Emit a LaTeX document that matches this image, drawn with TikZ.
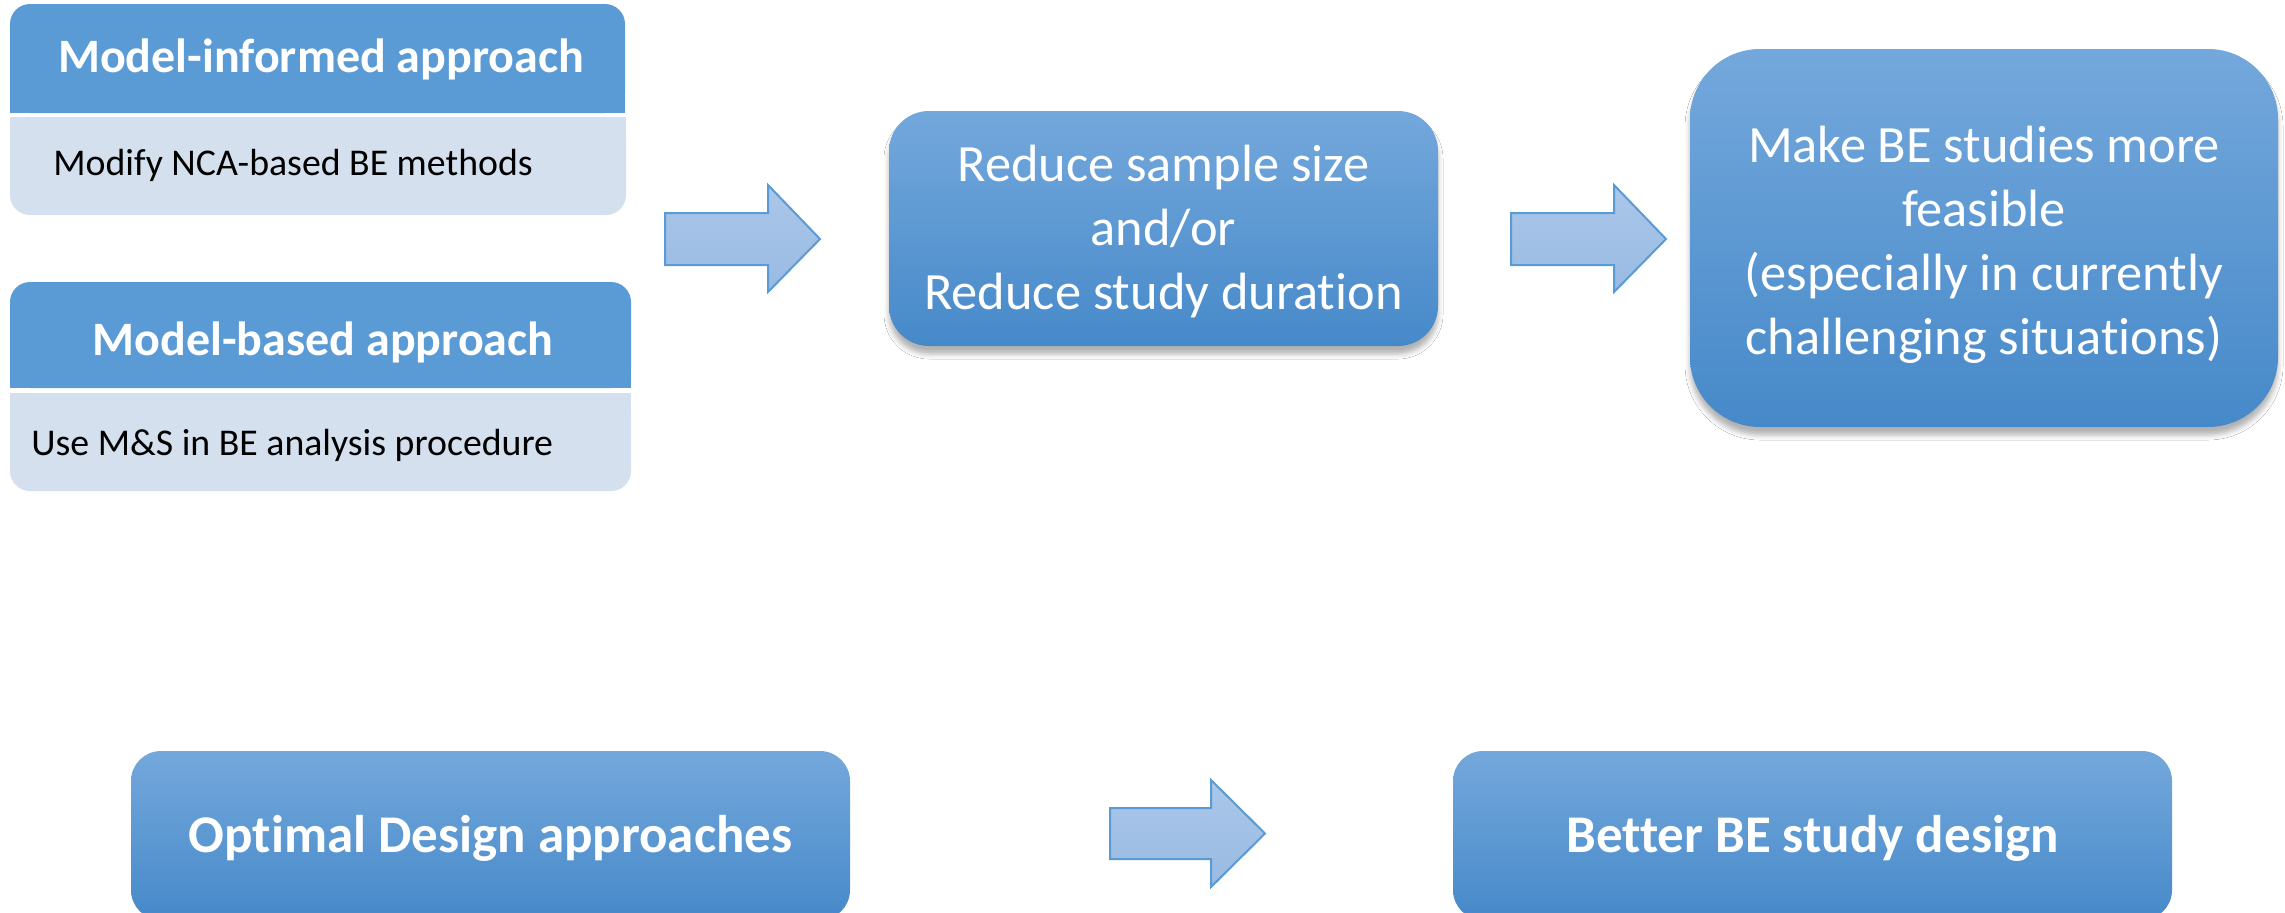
\documentclass[tikz,border=0pt]{standalone}
\usepackage{fontspec}
\setmainfont{Carlito}[Ligatures=NoCommon]
\usetikzlibrary{shadows.blur}
\definecolor{hdr}{HTML}{5B9BD5}
\definecolor{bodyc}{HTML}{D5E0EE}
\definecolor{gtop}{HTML}{74A8DC}
\definecolor{gmid}{HTML}{5A9CDB}
\definecolor{gbot}{HTML}{4689C9}
\definecolor{atop}{HTML}{ABC7E9}
\definecolor{abot}{HTML}{98BAE2}
\definecolor{aline}{HTML}{5B9BD5}
\begin{document}
\begin{tikzpicture}[x=0.5pt,y=-0.5pt,
 gbox/.style={draw=none, top color=gtop, middle color=gmid, bottom color=gbot, text=white, align=center, inner sep=0pt},
 barrow/.style={draw=aline, line width=1pt, top color=atop, bottom color=abot, line join=miter},
 hdrtext/.style={text=white, font=\bfseries\fontsize{24}{28}\selectfont, anchor=base, inner sep=0pt},
 bodytext/.style={text=black, font=\fontsize{18.9}{22}\selectfont, anchor=base west, inner sep=0pt},
 bigtext/.style={font=\fontsize{26.2}{32}\selectfont},
 boldbig/.style={font=\bfseries\fontsize{26.5}{30}\selectfont, text height=17pt, text depth=0pt},
 shad/.style={blur shadow={shadow xshift=0pt, shadow yshift=-4pt, shadow opacity=30, shadow blur radius=2.5pt}},
 ]
\clip (0,0) rectangle (2285,912);
\fill[white] (0,0) rectangle (2285,912);
% Box A
\fill[hdr, rounded corners=10pt] (10,4) rectangle (625,113);
\fill[hdr] (10,60) rectangle (625,113);
\fill[bodyc, rounded corners=10pt] (10,117) rectangle (626,215);
\fill[bodyc] (10,117) rectangle (626,160);
\node[hdrtext] (mi) at (321,72) {Model-informed approach};
\node[bodytext] (mib) at (53,175) {Modify NCA-based BE methods};
% Box B
\fill[hdr, rounded corners=10pt] (10,282) rectangle (631,388);
\fill[hdr] (10,330) rectangle (631,388);
\fill[bodyc, rounded corners=10pt] (10,393) rectangle (631,491);
\fill[bodyc] (10,393) rectangle (631,440);
\node[hdrtext] (mb) at (323,355) {Model-based approach};
\node[bodytext] (mbb) at (31,455) {Use M\&S in BE analysis procedure};
% arrows
\coordinate (a1) at (742.5,239);
\filldraw[barrow] (665,213) -- (768,213) -- (768,185) -- (820,239) -- (768,292) -- (768,265) -- (665,265) -- cycle;
\coordinate (a2) at (1588.5,239);
\filldraw[barrow] (1511,213) -- (1614,213) -- (1614,185) -- (1666,239) -- (1614,292) -- (1614,265) -- (1511,265) -- cycle;
\coordinate (a3) at (1187.5,833.5);
\filldraw[barrow] (1110,808) -- (1211,808) -- (1211,780) -- (1265,833.5) -- (1211,887) -- (1211,859) -- (1110,859) -- cycle;
% Box C
\node[gbox, shad, rounded corners=20pt, minimum width=274.5pt, minimum height=117.5pt] (reduce) at (1163.5,228.5) {};
\node[text=white, align=center, inner sep=0pt, bigtext] (reducetext) at (1163.5,231.5)
  {Reduce sample size\\and/or\\Reduce study duration};
% Box D
\node[gbox, shad, rounded corners=35pt, minimum width=294pt, minimum height=189pt] (feasible) at (1984,238) {};
\node[text=white, align=center, inner sep=0pt, bigtext] (feasibletext) at (1984,244.5)
  {Make BE studies more\\feasible\\(especially in currently\\challenging situations)};
% Box E, F
\node[gbox, rounded corners=15pt, minimum width=359.5pt, minimum height=84.5pt, boldbig] (optimal) at (490.5,835.5)
  {Optimal Design approaches};
\node[gbox, rounded corners=15pt, minimum width=359.5pt, minimum height=84.5pt, boldbig] (better) at (1812.5,835.5)
  {Better BE study design};
\end{tikzpicture}
\end{document}
